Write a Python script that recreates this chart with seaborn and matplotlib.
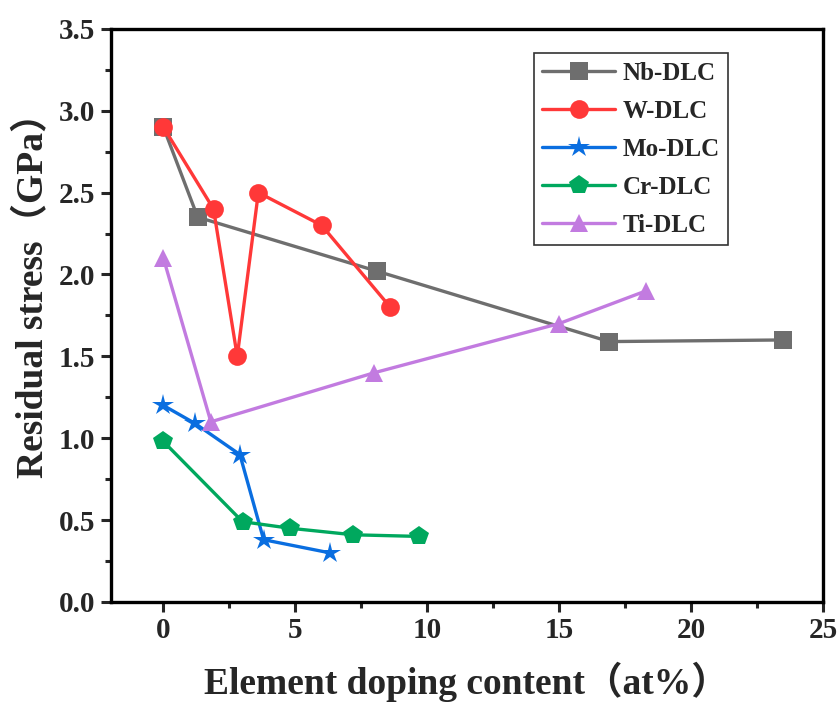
import matplotlib
matplotlib.use("Agg")
import matplotlib.pyplot as plt
import seaborn as sns
import pandas as pd
from matplotlib.ticker import MultipleLocator

sns.set_theme(style="white")
plt.rcParams['font.family'] = ['Liberation Serif', 'Noto Sans CJK SC']
plt.rcParams['font.weight'] = 'bold'

nb_x = [0, 1.3, 8.1, 16.9, 23.5]
nb_y = [2.9, 2.35, 2.02, 1.59, 1.6]
w_x = [0, 1.9, 2.8, 3.6, 6.0, 8.6]
w_y = [2.9, 2.4, 1.5, 2.5, 2.3, 1.8]
mo_x = [0, 1.2, 2.9, 3.8, 6.3]
mo_y = [1.2, 1.09, 0.9, 0.38, 0.3]
cr_x = [0, 3.0, 4.8, 7.2, 9.7]
cr_y = [0.98, 0.49, 0.45, 0.41, 0.40]
ti_x = [0, 1.8, 8.0, 15.0, 18.3]
ti_y = [2.1, 1.1, 1.4, 1.7, 1.9]

series = [
    ("Nb-DLC", nb_x, nb_y, "#6e6e6e", "s", 12.5),
    ("W-DLC", w_x, w_y, "#ff3838", "o", 13.5),
    ("Mo-DLC", mo_x, mo_y, "#0a6ee0", "*", 16),
    ("Cr-DLC", cr_x, cr_y, "#00a85e", "p", 14.5),
    ("Ti-DLC", ti_x, ti_y, "#c27be0", "^", 13.5),
]

fig = plt.figure(figsize=(8.38, 7.04), dpi=100)
ax = fig.add_axes([0.132, 0.145, 0.850, 0.814])

for name, xs, ys, col, mk, ms in series:
    df = pd.DataFrame({"x": xs, "y": ys})
    sns.lineplot(data=df, x="x", y="y", ax=ax, color=col, marker=mk,
                 markersize=ms, markeredgewidth=0, linewidth=2.4,
                 label=name, sort=False)

ax.set_xlim(-2, 25)
ax.set_ylim(0, 3.5)
ax.xaxis.set_major_locator(MultipleLocator(5))
ax.xaxis.set_minor_locator(MultipleLocator(2.5))
ax.yaxis.set_major_locator(MultipleLocator(0.5))
ax.yaxis.set_minor_locator(MultipleLocator(0.25))
ax.yaxis.set_major_formatter(matplotlib.ticker.FormatStrFormatter('%.1f'))
ax.tick_params(which='major', direction='out', length=7, width=2.2,
               labelsize=21, top=False, right=False, bottom=True, left=True, pad=4)
ax.tick_params(which='minor', direction='out', length=4, width=2.2,
               bottom=True, left=True)
for lab in ax.get_xticklabels() + ax.get_yticklabels():
    lab.set_fontweight('bold')
for s in ax.spines.values():
    s.set_linewidth(2.4)
    s.set_color('black')

ax.set_xlabel("Element doping content（at%）", fontsize=27, fontweight='bold')
ax.set_ylabel("Residual stress（GPa）", fontsize=27, fontweight='bold')
ax.xaxis.set_label_coords(0.5, -0.105)
ax.yaxis.set_label_coords(-0.083, 0.55)

leg = ax.legend(loc='upper left', bbox_to_anchor=(0.594, 0.958),
                frameon=True, fancybox=False, edgecolor='black',
                handlelength=2.9, borderpad=0.35, labelspacing=0.6,
                handletextpad=0.3, borderaxespad=0,
                prop={'weight': 'bold', 'size': 18})
leg.get_frame().set_linewidth(1.2)

fig.savefig("out.png", dpi=100)
